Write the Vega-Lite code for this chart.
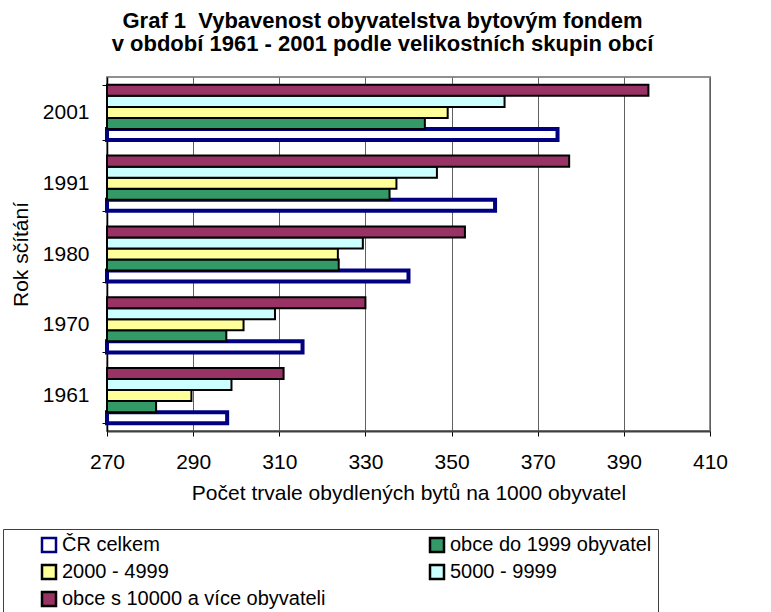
{
  "$schema": "https://vega.github.io/schema/vega-lite/v6.json",
  "width": 603,
  "height": 354,
  "autosize": "none",
  "padding": {"left": 107, "top": 77, "right": 61, "bottom": 181},
  "background": "white",
  "config": {
    "font": "Liberation Sans",
    "view": {"stroke": "#909090", "strokeWidth": 2}
  },
  "title": {
    "text": ["Graf 1\u00a0 Vybavenost obyvatelstva bytovým fondem", "v období 1961 - 2001 podle velikostních skupin obcí"],
    "fontSize": 22,
    "fontWeight": "bold",
    "font": "Liberation Sans",
    "color": "black",
    "anchor": "middle",
    "frame": "group",
    "dx": -26,
    "offset": 10,
    "lineHeight": 23
  },
  "data": {
    "values": [
      {"rok": "2001", "s": "ČR celkem", "v": 374.6},
      {"rok": "2001", "s": "obce do 1999 obyvatel", "v": 343.8},
      {"rok": "2001", "s": "2000 - 4999", "v": 349.1},
      {"rok": "2001", "s": "5000 - 9999", "v": 362.3},
      {"rok": "2001", "s": "obce s 10000 a více obyvateli", "v": 395.7},
      {"rok": "1991", "s": "ČR celkem", "v": 360.1},
      {"rok": "1991", "s": "obce do 1999 obyvatel", "v": 335.6},
      {"rok": "1991", "s": "2000 - 4999", "v": 337.2},
      {"rok": "1991", "s": "5000 - 9999", "v": 346.6},
      {"rok": "1991", "s": "obce s 10000 a více obyvateli", "v": 377.3},
      {"rok": "1980", "s": "ČR celkem", "v": 340.0},
      {"rok": "1980", "s": "obce do 1999 obyvatel", "v": 323.8},
      {"rok": "1980", "s": "2000 - 4999", "v": 323.6},
      {"rok": "1980", "s": "5000 - 9999", "v": 329.4},
      {"rok": "1980", "s": "obce s 10000 a více obyvateli", "v": 353.1},
      {"rok": "1970", "s": "ČR celkem", "v": 315.4},
      {"rok": "1970", "s": "obce do 1999 obyvatel", "v": 297.7},
      {"rok": "1970", "s": "2000 - 4999", "v": 301.7},
      {"rok": "1970", "s": "5000 - 9999", "v": 309.0},
      {"rok": "1970", "s": "obce s 10000 a více obyvateli", "v": 330.0},
      {"rok": "1961", "s": "ČR celkem", "v": 297.9},
      {"rok": "1961", "s": "obce do 1999 obyvatel", "v": 281.4},
      {"rok": "1961", "s": "2000 - 4999", "v": 289.6},
      {"rok": "1961", "s": "5000 - 9999", "v": 298.9},
      {"rok": "1961", "s": "obce s 10000 a více obyvateli", "v": 311.0}
    ]
  },
  "mark": {"type": "bar", "strokeWidth": 2},
  "encoding": {
    "y": {
      "field": "rok",
      "type": "nominal",
      "scale": {"domain": ["2001", "1991", "1980", "1970", "1961"], "paddingInner": 0.22, "paddingOuter": 0.11},
      "axis": {
        "title": "Rok sčítání",
        "titleFontSize": 21,
        "titleFontWeight": "normal",
        "titleColor": "black",
        "titlePadding": 11,
        "labelFontSize": 21,
        "labelColor": "black",
        "labelPadding": 13,
        "tickBand": "extent",
        "tickColor": "black",
        "tickSize": 5,
        "domainColor": "black",
        "domainWidth": 1.5,
        "grid": false
      }
    },
    "yOffset": {
      "field": "s",
      "type": "nominal",
      "scale": {"domain": ["obce s 10000 a více obyvateli", "5000 - 9999", "2000 - 4999", "obce do 1999 obyvatel", "ČR celkem"], "paddingInner": 0}
    },
    "x": {
      "field": "v",
      "type": "quantitative",
      "scale": {"domain": [270, 410], "nice": false, "zero": false},
      "axis": {
        "title": "Počet trvale obydlených bytů na 1000 obyvatel",
        "titleFontSize": 21,
        "titleFontWeight": "normal",
        "titleColor": "black",
        "titlePadding": 10,
        "values": [270, 290, 310, 330, 350, 370, 390, 410],
        "labelFontSize": 21,
        "labelColor": "black",
        "labelPadding": 15,
        "labelFlush": false,
        "tickColor": "black",
        "tickSize": 5,
        "domainColor": "#404040",
        "domainWidth": 2,
        "grid": true,
        "gridColor": "#606060",
        "gridWidth": 1,
        "gridOpacity": 1
      }
    },
    "x2": {"datum": 270},
    "fill": {
      "field": "s",
      "type": "nominal",
      "scale": {
        "domain": ["ČR celkem", "2000 - 4999", "obce s 10000 a více obyvateli", "obce do 1999 obyvatel", "5000 - 9999"],
        "range": ["white", "#FFFF99", "#993366", "#339966", "#CCFFFF"]
      },
      "legend": {
        "title": " ",
        "titleOrient": "left",
        "titlePadding": 30,
        "orient": "none",
        "legendX": -104,
        "legendY": 452,
        "columns": 2,
        "gridAlign": "all",
        "columnPadding": 99,
        "rowPadding": 3,
        "padding": 6,
        "strokeColor": "#404040",
        "symbolType": "square",
        "symbolSize": 196,
        "symbolStrokeWidth": 2.5,
        "labelFontSize": 20,
        "labelColor": "black",
        "labelOffset": 3,
        "labelLimit": 400
      }
    },
    "stroke": {
      "field": "s",
      "type": "nominal",
      "scale": {
        "domain": ["ČR celkem", "2000 - 4999", "obce s 10000 a více obyvateli", "obce do 1999 obyvatel", "5000 - 9999"],
        "range": ["#000080", "black", "black", "black", "black"]
      }
    },
    "strokeWidth": {
      "condition": {"test": "datum.s === 'ČR celkem'", "value": 4},
      "value": 2
    }
  }
}
